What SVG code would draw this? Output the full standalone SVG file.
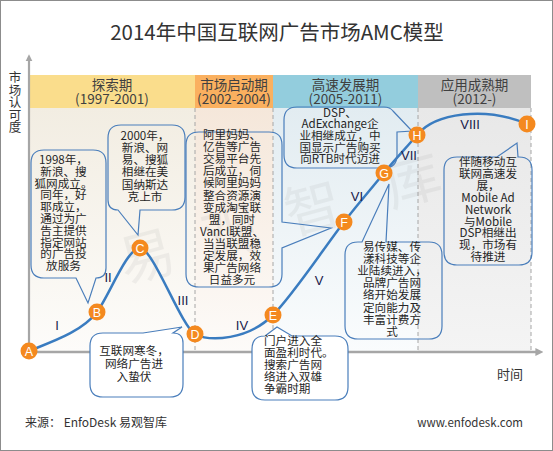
<svg xmlns="http://www.w3.org/2000/svg" width="553" height="451" viewBox="0 0 553 451">
<defs>
<linearGradient id="g1" x1="0" y1="0" x2="0" y2="1"><stop offset="0" stop-color="#F2EDE2"/><stop offset="1" stop-color="#FDFCFA"/></linearGradient>
<linearGradient id="g2" x1="0" y1="0" x2="0" y2="1"><stop offset="0" stop-color="#F5E7DA"/><stop offset="1" stop-color="#FDFBF9"/></linearGradient>
<linearGradient id="g3" x1="0" y1="0" x2="0" y2="1"><stop offset="0" stop-color="#E2ECF1"/><stop offset="1" stop-color="#FAFCFD"/></linearGradient>
<linearGradient id="g4" x1="0" y1="0" x2="0" y2="1"><stop offset="0" stop-color="#E8E8E8"/><stop offset="1" stop-color="#F4F4F4"/></linearGradient>
<marker id="arr" viewBox="0 0 10 10" refX="2" refY="5" markerWidth="3.2" markerHeight="3.2" orient="auto"><path d="M0,0 L10,5 L0,10 Z" fill="#A6A6A6"/></marker>
</defs>
<style>
.t{font-family:"Noto Sans CJK SC","Noto Sans",sans-serif;fill:#333;}
.band{font-size:13.5px;text-anchor:middle;fill:#404040;}
.co{font-size:11.6px;text-anchor:middle;fill:#262626;}
.call{fill:none;stroke:#4A7EBB;stroke-width:1.2;}
.callw{fill:#fff;stroke:#4A7EBB;stroke-width:1.2;}
.dash{stroke:#A6A6A6;stroke-width:1;stroke-dasharray:4 3;}
.mk{fill:#F4891F;}
.ml{font-family:"Liberation Sans","Noto Sans",sans-serif;font-size:12.5px;fill:#fff;text-anchor:middle;}
.rn{font-family:"Liberation Sans","DejaVu Sans",sans-serif;font-size:13px;fill:#1a1a4a;text-anchor:middle;}
.wm{font-family:"Noto Sans CJK SC",sans-serif;font-size:56px;fill:#808080;opacity:0.09;text-anchor:middle;}
</style>
<rect x="0.5" y="0.5" width="552" height="450" fill="#fff" stroke="#8C8C8C" stroke-width="1"/>
<text class="t" x="277" y="40" font-size="20.5" text-anchor="middle" fill="#404040">2014年中国互联网广告市场AMC模型</text>

<g id="plot-bg">
<rect x="30" y="108" width="165" height="244" fill="url(#g1)"/>
<rect x="195" y="108" width="78" height="244" fill="url(#g2)"/>
<rect x="273" y="108" width="145" height="244" fill="url(#g3)"/>
<rect x="418" y="108" width="113" height="244" fill="url(#g4)"/>
</g>
<g id="bands">
<rect x="30" y="75" width="165" height="33" fill="#FADD8C"/>
<rect x="195" y="75" width="78" height="33" fill="#FAB05F"/>
<rect x="273" y="75" width="145" height="33" fill="#93CDDD"/>
<rect x="418" y="75" width="113" height="33" fill="#BFBFBF"/>
<text class="t band"><tspan x="112" y="89.5">探索期</tspan><tspan x="112" y="104">(1997-2001)</tspan></text>
<text class="t band"><tspan x="234" y="89.5">市场启动期</tspan><tspan x="234" y="104">(2002-2004)</tspan></text>
<text class="t band"><tspan x="345.5" y="89.5">高速发展期</tspan><tspan x="345.5" y="104">(2005-2011)</tspan></text>
<text class="t band"><tspan x="474.5" y="89.5">应用成熟期</tspan><tspan x="474.5" y="104">(2012-)</tspan></text>
</g>
<g id="dividers">
<line class="dash" x1="195" y1="108" x2="195" y2="352"/>
<line class="dash" x1="273" y1="108" x2="273" y2="352"/>
<line class="dash" x1="418" y1="108" x2="418" y2="352"/>
<line class="dash" x1="531" y1="108" x2="531" y2="352"/>
</g>
<g id="watermark">
<text class="wm" transform="translate(152,276) rotate(-15)">易</text>
<text class="wm" transform="translate(236,252) rotate(-15)">观</text>
<text class="wm" transform="translate(318,228) rotate(-15)">智</text>
<text class="wm" transform="translate(418,200) rotate(-15)">库</text>
</g>
<g id="axes">
<line x1="29" y1="353" x2="29" y2="60" stroke="#A6A6A6" stroke-width="2.2" marker-end="url(#arr)"/>
<line x1="28" y1="352" x2="537" y2="352" stroke="#A6A6A6" stroke-width="2.5" marker-end="url(#arr)"/>
<text class="t" font-size="12.5" text-anchor="middle" fill="#1a1a1a"><tspan x="15" y="82">市</tspan><tspan x="15" y="94.5">场</tspan><tspan x="15" y="107">认</tspan><tspan x="15" y="119.5">可</tspan><tspan x="15" y="132">度</tspan></text>
<text class="t" x="510" y="379" font-size="13" text-anchor="middle" fill="#1a1a1a">时间</text>
</g>

<g id="connectors">
<path d="M29,351 C54,341 82,331.5 97,312 C109,296 127,248 140,248 C153,248 181,326 195,334 C210,342 248,340 273,315 C293,295 324,248 344,222 C357,205 371,189 384,173 C395,159.5 406,148 417,135 C435,113 485,106 527,124" fill="none" stroke="#3A7CC0" stroke-width="2.5"/>
</g>

<g id="callout-1998">
<path class="call" d="M44,150 H93 Q106,150 106,163 V268 Q106,278 96,278 L88,303 L76,278 H44 Q31,278 31,265 V163 Q31,150 44,150 Z"/>
<text class="t co"><tspan x="63.5" y="164">1998年，</tspan><tspan x="63.5" y="175.8">新浪、搜</tspan><tspan x="63.5" y="187.6">狐网成立。</tspan><tspan x="63.5" y="199.4">同年，好</tspan><tspan x="63.5" y="211.2">耶成立，</tspan><tspan x="63.5" y="223">通过为广</tspan><tspan x="63.5" y="234.8">告主提供</tspan><tspan x="63.5" y="246.6">指定网站</tspan><tspan x="63.5" y="258.4">的广告投</tspan><tspan x="63.5" y="270.2">放服务</tspan></text>
</g>
<g id="callout-2000">
<path class="call" d="M121,125 H172 Q185,125 185,138 V197 Q185,210 172,210 H140 L138,235 L118,210 Q108,210 108,200 V138 Q108,125 121,125 Z"/>
<text class="t co"><tspan x="145" y="139.5">2000年，</tspan><tspan x="145" y="151.8">新浪、网</tspan><tspan x="145" y="164.1">易、搜狐</tspan><tspan x="145" y="176.4">相继在美</tspan><tspan x="145" y="188.7">国纳斯达</tspan><tspan x="145" y="201">克上市</tspan></text>
</g>
<g id="callout-alimama">
<path class="call" d="M199,132 H269 Q282,132 282,145 V222 L331,228 L282,248 V274 Q282,287 269,287 H199 Q186,287 186,274 V145 Q186,132 199,132 Z"/>
<text class="t co"><tspan x="232" y="139">阿里妈妈、</tspan><tspan x="232" y="151.1">亿告等广告</tspan><tspan x="232" y="163.2">交易平台先</tspan><tspan x="232" y="175.3">后成立，伺</tspan><tspan x="232" y="187.4">候阿里妈妈</tspan><tspan x="232" y="199.5">整合资源演</tspan><tspan x="232" y="211.6">变成淘宝联</tspan><tspan x="232" y="223.7">盟，同时</tspan><tspan x="232" y="235.8">Vancl联盟、</tspan><tspan x="232" y="247.9">当当联盟稳</tspan><tspan x="232" y="260">定发展，效</tspan><tspan x="232" y="272.1">果广告网络</tspan><tspan x="232" y="284.2">日益多元</tspan></text>
</g>
<g id="callout-dsp">
<path class="call" d="M297,107 H384 Q390,107 393,111 L412,131 L397,132 V155 Q397,168 384,168 H297 Q284,168 284,155 V120 Q284,107 297,107 Z"/>
<text class="t co"><tspan x="340" y="116.5">DSP、</tspan><tspan x="340" y="128.2">AdExchange企</tspan><tspan x="340" y="139.9">业相继成立，中</tspan><tspan x="340" y="151.6">国显示广告购买</tspan><tspan x="340" y="163.3">向RTB时代迈进</tspan></text>
</g>
<g id="callout-yichuanmei">
<path class="call" d="M358,242 H362 L389,184 L386,242 H429 Q442,242 442,255 V326 Q442,339 429,339 H358 Q345,339 345,326 V255 Q345,242 358,242 Z"/>
<text class="t co"><tspan x="392" y="251">易传媒、传</tspan><tspan x="392" y="263.1">漾科技等企</tspan><tspan x="392" y="275.2">业陆续进入，</tspan><tspan x="392" y="287.3">品牌广告网</tspan><tspan x="392" y="299.4">络开始发展</tspan><tspan x="392" y="311.5">定向能力及</tspan><tspan x="392" y="323.6">丰富计费方</tspan><tspan x="392" y="335.7">式</tspan></text>
</g>
<g id="callout-mobile">
<path class="call" d="M457,157 H497 L517,143 L518,157 H519 Q532,157 532,170 V252 Q532,265 519,265 H457 Q444,265 444,252 V170 Q444,157 457,157 Z"/>
<text class="t co"><tspan x="488" y="166">伴随移动互</tspan><tspan x="488" y="177.9">联网高速发</tspan><tspan x="488" y="189.8">展，</tspan><tspan x="488" y="201.7">Mobile Ad</tspan><tspan x="488" y="213.6">Network</tspan><tspan x="488" y="225.5">与Mobile</tspan><tspan x="488" y="237.4">DSP相继出</tspan><tspan x="488" y="249.3">现，市场有</tspan><tspan x="488" y="261.2">待推进</tspan></text>
</g>
<g id="callout-winter">
<path class="callw" d="M103,333 H143 L182,327 L173,333 Q183,333 183,343 V384 Q183,397 170,397 H103 Q90,397 90,384 V346 Q90,333 103,333 Z"/>
<text class="t co" font-size="12.5"><tspan x="134" y="354.5">互联网寒冬，</tspan><tspan x="134" y="367.5">网络广告进</tspan><tspan x="134" y="380.5">入蛰伏</tspan></text>
</g>
<g id="callout-portal">
<path class="callw" d="M265,336 L277,327 L292,336 H335 Q348,336 348,349 V387 Q348,400 335,400 H265 Q252,400 252,387 V349 Q252,336 265,336 Z"/>
<text class="t co" style="text-anchor:start"><tspan x="264" y="344.5">门户进入全</tspan><tspan x="264" y="356.7">面盈利时代。</tspan><tspan x="264" y="368.9">搜索广告网</tspan><tspan x="264" y="381.1">络进入双雄</tspan><tspan x="264" y="393.3">争霸时期</tspan></text>
</g>

<g id="node-A"><circle class="mk" cx="29" cy="351" r="8.5"/><text class="ml" x="29" y="355.5">A</text></g>
<g id="node-B"><circle class="mk" cx="97" cy="312" r="8.5"/><text class="ml" x="97" y="316.5">B</text></g>
<g id="node-C"><circle class="mk" cx="140" cy="248" r="8.5"/><text class="ml" x="140" y="252.5">C</text></g>
<g id="node-D"><circle class="mk" cx="195" cy="334" r="8.5"/><text class="ml" x="195" y="338.5">D</text></g>
<g id="node-E"><circle class="mk" cx="273" cy="315" r="8.5"/><text class="ml" x="273" y="319.5">E</text></g>
<g id="node-F"><circle class="mk" cx="344" cy="222" r="8.5"/><text class="ml" x="344" y="226.5">F</text></g>
<g id="node-G"><circle class="mk" cx="384" cy="173" r="8.5"/><text class="ml" x="384" y="177.5">G</text></g>
<g id="node-H"><circle class="mk" cx="417" cy="135" r="8.5"/><text class="ml" x="417" y="139.5">H</text></g>
<g id="node-I"><circle class="mk" cx="527" cy="124" r="8.5"/><text class="ml" x="527" y="128.5">I</text></g>

<g id="stages">
<text class="rn" x="57" y="330">I</text>
<text class="rn" x="108" y="282">II</text>
<text class="rn" x="183" y="305">III</text>
<text class="rn" x="242" y="330">IV</text>
<text class="rn" x="319" y="285">V</text>
<text class="rn" x="357" y="201">VI</text>
<text class="rn" x="409" y="160">VII</text>
<text class="rn" x="470" y="129">VIII</text>
</g>

<text class="t" x="25" y="427" font-size="12" fill="#404040">来源： EnfoDesk 易观智库</text>
<text class="t" x="523" y="427" font-size="11.5" text-anchor="end" fill="#404040">www.enfodesk.com</text>
</svg>
